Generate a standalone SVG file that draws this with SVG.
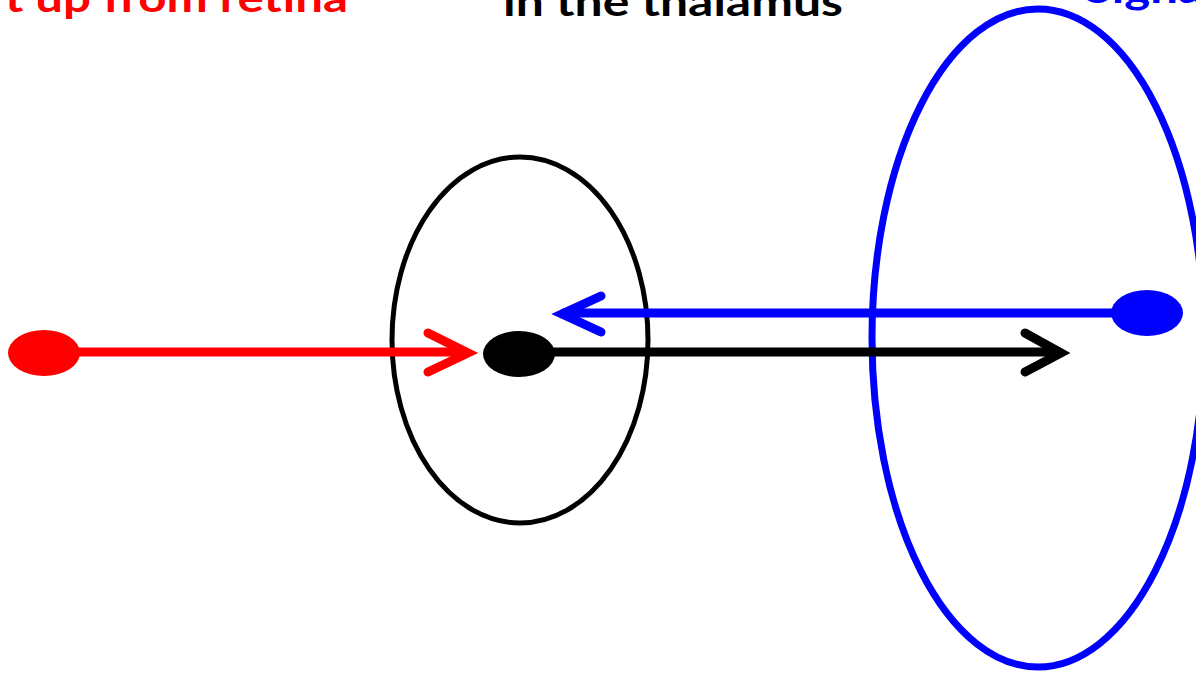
<svg xmlns="http://www.w3.org/2000/svg" width="1196" height="673" viewBox="0 0 1196 673">
<style>
.lbl{font-family:"Lato","Liberation Sans",sans-serif;font-weight:bold;font-size:40px}
.conn{fill:none;stroke-width:9;stroke-linecap:round;stroke-linejoin:miter}
.head{fill:none;stroke-width:9;stroke-linecap:round;stroke-linejoin:miter;stroke-miterlimit:10}
</style>
<rect width="1196" height="673" fill="#fff"/>
<g id="labels">
<text class="lbl" x="348" y="12" text-anchor="end" fill="#ff0000" textLength="343" lengthAdjust="spacingAndGlyphs">t up from retina</text>
<text class="lbl" x="503" y="16" fill="#000" textLength="340" lengthAdjust="spacingAndGlyphs">in the thalamus</text>
<text class="lbl" x="1085" y="3" fill="#0000ff" textLength="118" lengthAdjust="spacingAndGlyphs">Signa</text>
</g>
<g id="thalamus">
<ellipse cx="520" cy="340" rx="128" ry="183" fill="none" stroke="#000" stroke-width="5"/>
</g>
<g id="cortex">
<ellipse cx="1038" cy="338" rx="166" ry="329" fill="none" stroke="#0000ff" stroke-width="7"/>
</g>
<g id="connectors">
<line class="conn" x1="44" y1="352" x2="465" y2="352" stroke="#ff0000"/>
<polyline class="head" points="428,333 468,353 428,372" stroke="#ff0000"/>
<line class="conn" x1="520" y1="352" x2="1058" y2="352" stroke="#000"/>
<polyline class="head" points="1025,333 1061,353 1025,372" stroke="#000"/>
<line class="conn" x1="1147" y1="313" x2="564" y2="313" stroke="#0000ff"/>
<polyline class="head" points="601,296 562,314 601,332" stroke="#0000ff"/>
</g>
<g id="retina-node">
<ellipse cx="44" cy="353" rx="36" ry="23" fill="#ff0000"/>
</g>
<g id="thalamus-node">
<ellipse cx="519" cy="354" rx="36" ry="23" fill="#000"/>
</g>
<g id="cortex-node">
<ellipse cx="1147" cy="313" rx="36" ry="23" fill="#0000ff"/>
</g>
</svg>
